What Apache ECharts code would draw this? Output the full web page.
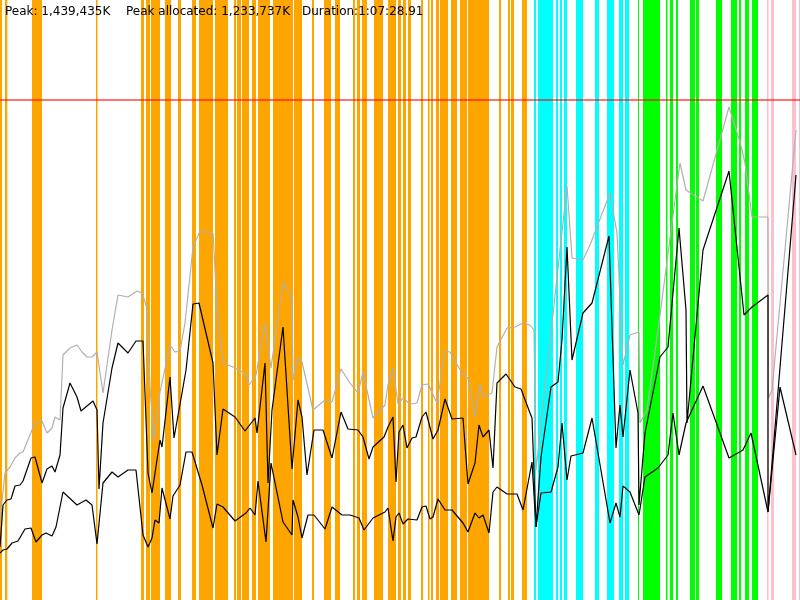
<!DOCTYPE html>
<html>
<head>
<meta charset="utf-8">
<title>Memory profile</title>
<script src="https://cdn.jsdelivr.net/npm/echarts@6/dist/echarts.min.js"></script>
<style>
    html, body { margin: 0; padding: 0; background: #fff; }
    #main { width: 800px; height: 600px; }
</style>
</head>
<body>
<div id="main"></div>
<script>
// summary text
var peakText = "Peak: 1,439,435K";
var allocText = "Peak allocated: 1,233,737K";
var durationText = "Duration:1:07:28.91";

// time bands [start, end] per phase
var orangeBands = [[0, 2], [5, 7.3], [32, 42], [96, 97.5], [141, 144], [146, 150], [151, 160], [165, 171],
    [178, 181], [192, 196], [199, 213], [215, 228], [234, 236], [237, 241], [242, 249], [252, 256],
    [258, 270], [273, 293], [294, 302], [312, 314], [324, 331], [335, 340], [353, 355], [357, 360],
    [362, 367], [374, 383], [388, 396], [398, 401], [403, 406], [408, 411], [421, 423], [428, 429.5],
    [431, 433], [436, 439], [440, 448], [451, 457], [460, 467], [468, 489], [499, 501], [508, 510],
    [511, 514], [522, 527]];
var cyanBands = [[534, 536], [538, 553], [556, 558], [560, 562], [564, 567], [576, 583], [595, 599],
    [607, 614], [619, 623], [625, 629]];
var greenBands = [[638, 639], [643, 660], [666, 667.5], [670, 673], [676, 678], [690, 695], [696, 699],
    [716, 722], [731, 737], [739, 741], [745, 749], [752, 758]];
var pinkBands = [[767, 768.5], [771, 774], [792, 796], [799, 800]];

// memory limit line
var limitLevel = 500;

// total heap (gray)
var totalMem = [[0, 80], [5, 127], [10, 133], [15, 142], [20, 147], [23, 148], [32, 170], [35, 177], [42, 179],
    [47, 167], [52, 172], [55, 183], [60, 180], [63, 245], [70, 252], [77, 255], [82, 248], [87, 243],
    [92, 243], [97, 248], [103, 207], [112, 270], [118, 305], [128, 303], [137, 309], [142, 307],
    [147, 292], [150, 213], [154, 160], [160, 208], [170, 255], [175, 248], [180, 249], [185, 277],
    [193, 353], [200, 369], [213, 367], [217, 293], [223, 237], [233, 233], [245, 227], [249, 215],
    [256, 225], [265, 277], [271, 232], [283, 318], [292, 302], [293, 220], [298, 242], [302, 238],
    [313, 190], [325, 200], [332, 198], [341, 231], [350, 217], [358, 207], [363, 228], [373, 182],
    [385, 195], [388, 215], [393, 232], [398, 196], [403, 202], [410, 196], [417, 197], [422, 215],
    [428, 216], [437, 197], [445, 249], [450, 248], [463, 225], [468, 222], [475, 183], [480, 216],
    [483, 203], [492, 207], [497, 253], [507, 272], [515, 273], [523, 277], [530, 275], [534, 270],
    [536, 130], [567, 414], [572, 342], [583, 340], [590, 355], [610, 407], [617, 367], [623, 235],
    [630, 265], [639, 268], [640, 177], [647, 190], [660, 285], [677, 415], [680, 437], [686, 410],
    [703, 399], [729, 493], [740, 458], [745, 437], [752, 383], [768, 383], [768.5, 202], [772, 210],
    [796, 470]];

// allocated (upper black)
var allocMem = [[0, 53], [3, 95], [7, 100], [11, 101], [15, 114], [20, 115], [23, 119], [31, 142], [35, 143],
    [42, 117], [47, 131], [52, 134], [55, 128], [60, 145], [63, 192], [70, 217], [77, 203], [81, 189],
    [93, 199], [97, 190], [99, 111], [103, 177], [112, 232], [118, 257], [128, 247], [136, 259],
    [143, 259], [148, 127], [152, 107], [160, 160], [162, 153], [170, 223], [174, 162], [182, 207],
    [186, 230], [193, 296], [199, 297], [213, 237], [217, 145], [223, 191], [235, 183], [245, 169],
    [255, 182], [257, 167], [265, 237], [268, 117], [272, 190], [283, 273], [292, 131], [298, 200],
    [302, 183], [307, 125], [314, 170], [323, 170], [332, 142], [341, 188], [348, 171], [358, 170],
    [363, 163], [369, 141], [373, 153], [384, 163], [388, 173], [393, 183], [396, 118], [399, 168],
    [403, 175], [407, 152], [412, 162], [416, 163], [418, 161], [422, 183], [426, 188], [433, 161],
    [438, 170], [445, 201], [452, 181], [463, 182], [468, 116], [475, 137], [479, 175], [483, 163],
    [489, 170], [493, 132], [497, 217], [506, 226], [515, 213], [521, 211], [530, 187], [532, 182],
    [536, 73], [541, 143], [551, 213], [558, 218], [562, 260], [567, 353], [572, 240], [583, 287],
    [592, 297], [609, 364], [616, 152], [620, 195], [623, 163], [630, 230], [638, 187], [639, 95],
    [645, 167], [660, 243], [668, 253], [679, 372], [686, 290], [687, 177], [703, 350], [729, 429],
    [744, 285], [752, 293], [768, 305], [768, 88], [796, 425]];

// live data (lower black)
var liveMem = [[0, 47], [3, 50], [7, 51], [12, 57], [18, 59], [25, 71], [31, 72], [36, 58], [42, 65],
    [46, 67], [52, 64], [56, 73], [63, 108], [77, 95], [86, 100], [92, 95], [97, 56], [103, 117],
    [112, 128], [118, 123], [128, 130], [136, 130], [143, 65], [148, 53], [152, 62], [155, 80],
    [159, 77], [162, 112], [170, 81], [173, 104], [180, 115], [186, 148], [192, 148], [202, 115],
    [213, 72], [217, 96], [223, 93], [235, 79], [246, 87], [250, 92], [255, 85], [258, 119], [266, 58],
    [271, 137], [283, 78], [292, 65], [293, 100], [298, 83], [302, 62], [308, 85], [314, 85], [325, 71],
    [332, 93], [342, 85], [350, 85], [359, 82], [364, 70], [373, 82], [385, 88], [388, 92], [393, 59],
    [396, 83], [399, 87], [403, 76], [408, 81], [417, 80], [422, 93], [426, 94], [430, 81], [433, 83],
    [438, 101], [445, 90], [452, 90], [463, 77], [468, 68], [475, 87], [479, 82], [483, 85], [489, 67],
    [493, 108], [497, 113], [507, 106], [517, 106], [523, 90], [532, 138], [536, 73], [541, 107],
    [551, 108], [558, 133], [562, 177], [567, 120], [571, 144], [583, 147], [592, 182], [610, 77],
    [616, 97], [620, 83], [623, 114], [630, 108], [639, 85], [645, 123], [658, 132], [668, 145],
    [673, 187], [679, 145], [686, 177], [703, 214], [729, 142], [743, 150], [751, 167], [768, 88],
    [780, 213], [796, 145]];

var bandColors = ['#ffa500', '#00ffff', '#00ff00', '#ffc0cb'];

var ChartHandler = (function () {
    return {
        // flatten band groups into custom series data
        buildBands: function () {
            var groups = [orangeBands, cyanBands, greenBands, pinkBands];
            var data = [];
            for (var g = 0; g < groups.length; g++) {
                for (var i = 0; i < groups[g].length; i++) {
                    data.push([groups[g][i][0], groups[g][i][1], g]);
                }
            }
            return data;
        },

        renderBand: function (params, api) {
            var p0 = api.coord([api.value(0), 600]);
            var p1 = api.coord([api.value(1), 0]);
            return {
                type: 'rect',
                shape: { x: p0[0], y: p0[1], width: p1[0] - p0[0], height: p1[1] - p0[1] },
                style: { fill: bandColors[api.value(2)] }
            };
        },

        lineSeries: function (name, data, color, z) {
            return {
                name: name,
                type: 'line',
                data: data,
                showSymbol: false,
                z: z,
                lineStyle: { color: color, width: 1.2 },
                silent: true
            };
        },

        init: function () {
            var chart = echarts.init(document.getElementById('main'));
            var gray = this.lineSeries('total', totalMem, '#b0b0b0', 3);
            gray.markLine = {
                symbol: 'none',
                silent: true,
                label: { show: false },
                lineStyle: { color: 'rgba(255,0,0,0.55)', width: 2, type: 'solid' },
                data: [{ yAxis: limitLevel }]
            };
            var option = {
                animation: false,
                backgroundColor: '#ffffff',
                grid: { left: 0, right: 0, top: 0, bottom: 0 },
                xAxis: { type: 'value', min: 0, max: 800, show: false },
                yAxis: { type: 'value', min: 0, max: 600, show: false },
                graphic: [
                    { type: 'text', left: 5, top: 6, z: 100, style: { text: peakText, font: '12px "DejaVu Sans"', fill: '#000' } },
                    { type: 'text', left: 126, top: 6, z: 100, style: { text: allocText, font: '12px "DejaVu Sans"', fill: '#000' } },
                    { type: 'text', left: 302, top: 6, z: 100, style: { text: durationText, font: '12px "DejaVu Sans"', fill: '#000' } }
                ],
                series: [
                    {
                        type: 'custom',
                        renderItem: this.renderBand,
                        data: this.buildBands(),
                        z: 1,
                        silent: true
                    },
                    gray,
                    this.lineSeries('allocated', allocMem, '#000000', 4),
                    this.lineSeries('live', liveMem, '#000000', 4)
                ]
            };
            chart.setOption(option);
        }
    };
})();

ChartHandler.init();
</script>
</body>
</html>
